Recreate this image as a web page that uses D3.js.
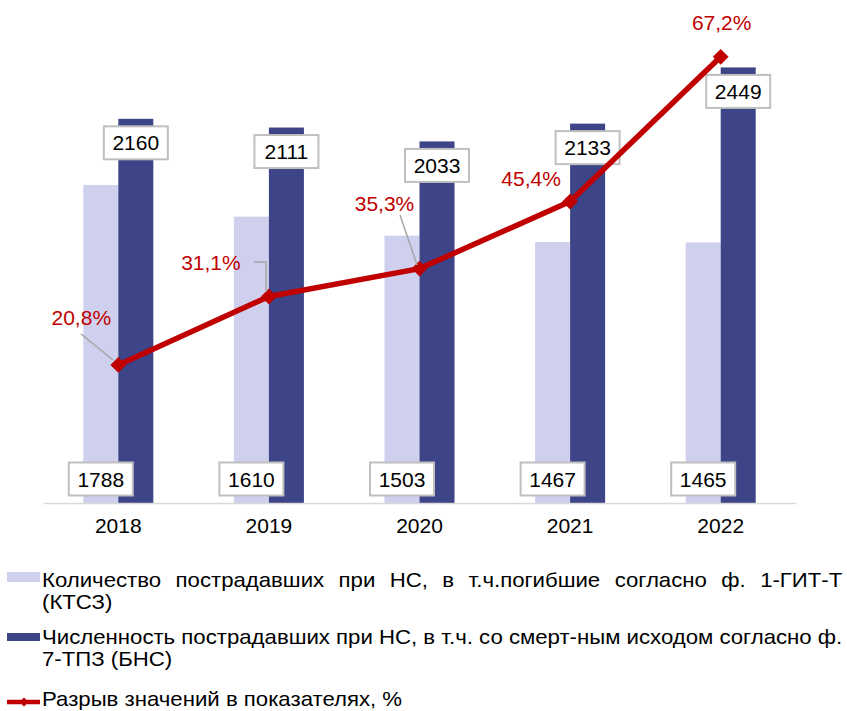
<!DOCTYPE html>
<html>
<head>
<meta charset="utf-8">
<script src="https://cdn.jsdelivr.net/npm/d3@7"></script>
<style>
  body { margin: 0; background: #fff; }
  svg { display: block; font-family: Arial, "Liberation Sans", sans-serif; }
</style>
</head>
<body>
<div id="vis"></div>
<script>
// data
const YEARS = ["2018", "2019", "2020", "2021", "2022"];
const KTSZ = [1788, 1610, 1503, 1467, 1465];      // light bars
const BNS = [2160, 2111, 2033, 2133, 2449];       // dark bars
const GAP = [20.8, 31.1, 35.3, 45.4, 67.2];       // red line, %
const GAP_LABELS = ["20,8%", "31,1%", "35,3%", "45,4%", "67,2%"];
const LEGEND_1 = ["Количество пострадавших при НС, в т.ч.погибшие согласно ф. 1-ГИТ-Т", "(КТСЗ)"];
const LEGEND_2 = ["Численность пострадавших при НС, в т.ч. со смерт-ным исходом согласно ф.", "7-ТПЗ (БНС)"];
const LEGEND_3 = ["Разрыв значений в показателях, %"];

const WIDTH = 847, HEIGHT = 711;
const BASE_Y = 503;
const LIGHT = "#cfcfee", DARK = "#3d4488", RED = "#c00000";

const svg = d3.select("#vis").append("svg")
    .attr("width", WIDTH)
    .attr("height", HEIGHT);

// scales
const x = d3.scaleBand()
    .domain(YEARS)
    .range([43, 796])
    .paddingInner(0.535)
    .paddingOuter(0.2675);

const xSub = d3.scaleBand()
    .domain(["ktsz", "bns"])
    .range([0, x.bandwidth()]);

const y = d3.scaleLinear().domain([0, 2800]).range([BASE_Y, 5]);
const yPct = d3.scaleLinear().domain([0, 75]).range([BASE_Y, 5]);

// bars
const groups = svg.selectAll("g.year")
    .data(YEARS)
    .enter()
    .append("g")
    .attr("class", "year")
    .attr("transform", d => "translate(" + x(d) + ",0)");

groups.append("rect")
    .attr("x", xSub("ktsz"))
    .attr("y", (d, i) => y(KTSZ[i]))
    .attr("width", xSub.bandwidth())
    .attr("height", (d, i) => BASE_Y - y(KTSZ[i]))
    .attr("fill", LIGHT);

groups.append("rect")
    .attr("x", xSub("bns"))
    .attr("y", (d, i) => y(BNS[i]))
    .attr("width", xSub.bandwidth())
    .attr("height", (d, i) => BASE_Y - y(BNS[i]))
    .attr("fill", DARK);

// x axis
const xAxis = svg.append("g")
    .attr("transform", "translate(0," + BASE_Y + ")")
    .call(d3.axisBottom(x).tickSize(0).tickPadding(15));
xAxis.select(".domain").attr("stroke", "#d9d9d9").attr("stroke-width", 1.5);
xAxis.selectAll("text")
    .attr("font-size", "21px")
    .attr("fill", "#000")
    .style("font-family", "Arial, 'Liberation Sans', sans-serif");

// boxed value labels
function boxLabel(g, cx, cy, txt) {
  g.append("rect")
      .attr("x", cx - 32)
      .attr("y", cy - 16.5)
      .attr("width", 64)
      .attr("height", 33)
      .attr("fill", "#fff")
      .attr("stroke", "#bfbfbf")
      .attr("stroke-width", 2);
  g.append("text")
      .attr("x", cx)
      .attr("y", cy)
      .attr("dy", "0.36em")
      .attr("text-anchor", "middle")
      .attr("font-size", "21px")
      .attr("fill", "#000")
      .text(txt);
}

YEARS.forEach((yr, i) => {
  boxLabel(svg.append("g"), x(yr) + xSub("bns") + xSub.bandwidth() / 2, y(BNS[i]) + 24, BNS[i]);
  boxLabel(svg.append("g"), x(yr) + xSub("ktsz") + xSub.bandwidth() / 2, BASE_Y - 24, KTSZ[i]);
});

// red line
const cx = (d, i) => x(YEARS[i]) + x.bandwidth() / 2;
const line = d3.line()
    .x(cx)
    .y(d => yPct(d));

svg.append("path")
    .datum(GAP)
    .attr("d", line)
    .attr("fill", "none")
    .attr("stroke", RED)
    .attr("stroke-width", 5.5)
    .attr("stroke-linejoin", "round");

svg.selectAll("path.marker")
    .data(GAP)
    .enter()
    .append("path")
    .attr("class", "marker")
    .attr("d", d3.symbol(d3.symbolSquare, 125))
    .attr("transform", (d, i) => "translate(" + cx(d, i) + "," + yPct(d) + ") rotate(45)")
    .attr("fill", RED);

// percent labels (offset from point) and leader lines
const LABEL_OFF = [[-37, -47], [-58, -34], [-35, -65], [-39, -23], [1, -34]];
GAP.forEach((v, i) => {
  const px = cx(v, i), py = yPct(v);
  svg.append("text")
      .attr("x", px + LABEL_OFF[i][0])
      .attr("y", py + LABEL_OFF[i][1])
      .attr("dy", "0.36em")
      .attr("text-anchor", "middle")
      .attr("font-size", "21px")
      .attr("fill", RED)
      .text(GAP_LABELS[i]);
});

const leaders = [
  [[81, 334], [113, 360]],
  [[254, 262], [266, 262], [266, 292]],
  [[400, 215], [417, 265]]
];
svg.selectAll("path.leader")
    .data(leaders)
    .enter()
    .append("path")
    .attr("class", "leader")
    .attr("d", d3.line())
    .attr("fill", "none")
    .attr("stroke", "#a6a6a6")
    .attr("stroke-width", 1.5);

// legend
const LEG_X = 42, LEG_RIGHT = 843;
const legend = svg.append("g");

legend.append("rect").attr("x", 7).attr("y", 572).attr("width", 33).attr("height", 10).attr("fill", LIGHT);
legend.append("rect").attr("x", 7).attr("y", 633).attr("width", 33).attr("height", 8).attr("fill", DARK);
legend.append("line").attr("x1", 7).attr("x2", 40).attr("y1", 702).attr("y2", 702)
    .attr("stroke", RED).attr("stroke-width", 4.5);
legend.append("path")
    .attr("d", d3.symbol(d3.symbolSquare, 40))
    .attr("transform", "translate(24,702) rotate(45)")
    .attr("fill", RED);

function legText(txt, yy) {
  return legend.append("text")
      .attr("x", 0)
      .attr("y", 0)
      .attr("font-size", "20px")
      .attr("fill", "#000")
      .attr("transform", "translate(" + LEG_X + "," + yy + ")")
      .text(txt);
}

// condensed font: scale from the un-justified long line
const ref = legText(LEGEND_2[0], 644);
const scaleX = (LEG_RIGHT - LEG_X) / ref.node().getComputedTextLength();
ref.attr("transform", "translate(" + LEG_X + ",644) scale(" + scaleX + ",1)");

const just = legText(LEGEND_1[0], 587);
const natural = just.node().getComputedTextLength();
const spaces = LEGEND_1[0].split(" ").length - 1;
just.attr("word-spacing", ((LEG_RIGHT - LEG_X) / scaleX - natural) / spaces)
    .attr("transform", "translate(" + LEG_X + ",587) scale(" + scaleX + ",1)");

[[LEGEND_1[1], 609], [LEGEND_2[1], 666], [LEGEND_3[0], 706]].forEach(([t, yy]) => {
  legText(t, yy).attr("transform", "translate(" + LEG_X + "," + yy + ") scale(" + scaleX + ",1)");
});
</script>
</body>
</html>
